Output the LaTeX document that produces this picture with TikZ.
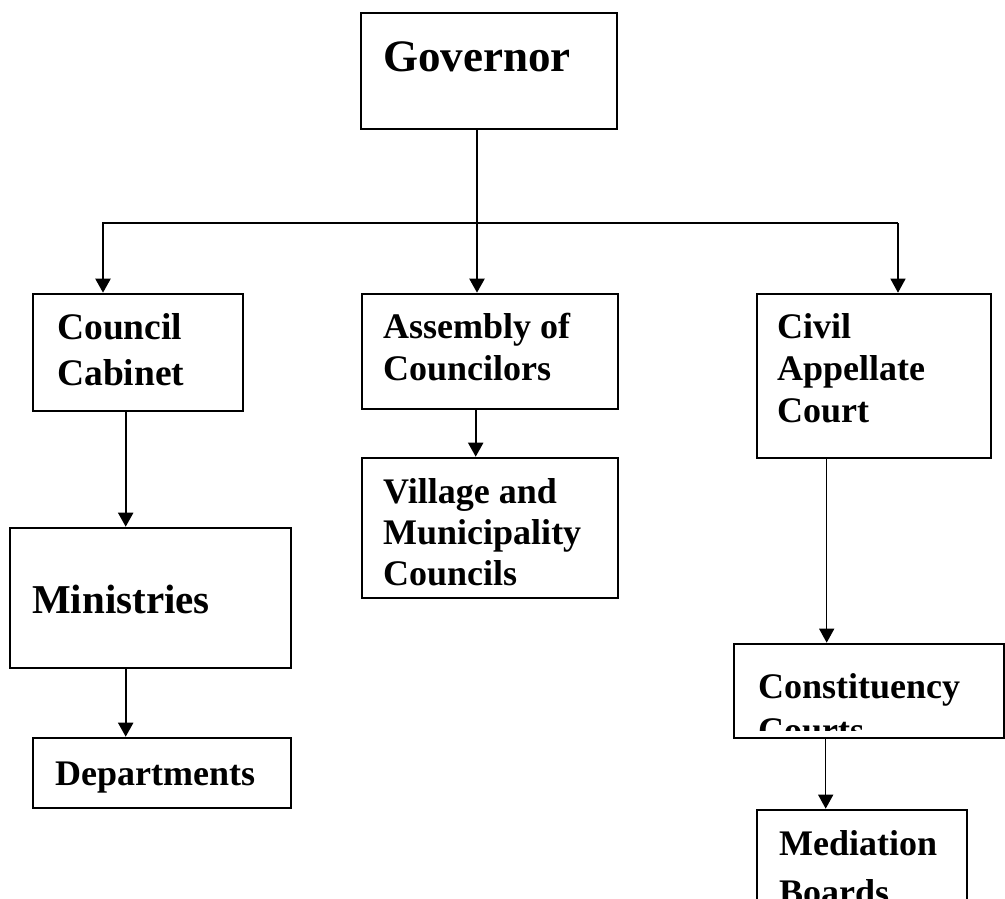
\documentclass[tikz,border=0pt]{standalone}
\usepackage{fontspec}
\setmainfont{Liberation Serif}
\usetikzlibrary{arrows.meta}
\tikzset{
  box/.style={draw, rectangle, line width=2.6pt, inner sep=0pt},
  link/.style={line width=2.1pt, -{Triangle[width=15pt,length=14pt]}},
  thinlink/.style={link, line width=1.3pt},
  lbl/.style={anchor=base west, inner sep=0pt, font=\bfseries\fontsize{36}{42}\selectfont},
  biglbl/.style={lbl, font=\bfseries\fontsize{45}{52}\selectfont},
  midlbl/.style={lbl, font=\bfseries\fontsize{41}{48}\selectfont},
  cablbl/.style={lbl, font=\bfseries\fontsize{37.5}{44}\selectfont},
}
\begin{document}
\begin{tikzpicture}[x=1pt,y=-1pt]
\useasboundingbox (0,0) rectangle (1005,898);
\clip (0,0) rectangle (1005,898);

% boxes
\node[box, minimum width=256pt, minimum height=116pt] (gov) at (489,71) {};
\node[box, minimum width=210pt, minimum height=117pt] (cab) at (138,352.5) {};
\node[box, minimum width=256pt, minimum height=115pt] (asm) at (490,351.5) {};
\node[box, minimum width=234pt, minimum height=164pt] (civ) at (874,376) {};
\node[box, minimum width=256pt, minimum height=140pt] (vil) at (490,528) {};
\node[box, minimum width=281pt, minimum height=140pt] (min) at (150.5,598) {};
\node[box, minimum width=258pt, minimum height=70pt]  (dep) at (162,773) {};
\node[box, minimum width=270pt, minimum height=94pt]  (con) at (869,691) {};
\node[box, minimum width=210pt, minimum height=130pt] (med) at (862,875) {};

% labels
\node[biglbl] (tgov) at (383,71) {Governor};
\node[cablbl] (tcab1) at (57,339) {Council};
\node[cablbl] (tcab2) at (57,385) {Cabinet};
\node[lbl] (tasm1) at (383,338) {Assembly of};
\node[lbl] (tasm2) at (383,380) {Councilors};
\node[lbl] (tvil1) at (383,503) {Village and};
\node[lbl] (tvil2) at (383,544) {Municipality};
\node[lbl] (tvil3) at (383,585) {Councils};
\node[lbl] (tciv1) at (777,338) {Civil};
\node[lbl] (tciv2) at (777,380) {Appellate};
\node[lbl] (tciv3) at (777,422) {Court};
\node[midlbl] (tmin) at (32,613) {Ministries};
\node[lbl] (tdep) at (55,785) {Departments};
\node[lbl] (tcon1) at (758,698) {Constituency};
\begin{scope}
  \clip (734,700) rectangle (1005,730);
  \node[lbl] (tcon2) at (758,742) {Courts};
\end{scope}
\node[lbl] (tmed1) at (779,855) {Mediation};
\node[lbl] (tmed2) at (779,904) {Boards};

% connectors
\coordinate (bus) at (477,223);
\coordinate (busL) at (103,223);
\coordinate (busR) at (898,223);
\draw[link] (gov.south -| bus) -- (asm.north -| bus);
\draw[link] (bus) -| (busL |- cab.north);
\draw[line width=2.1pt] (bus) -- (busR);
\draw[thinlink] (busR) -- (busR |- civ.north);
\draw[link] ([xshift=94pt]cab.south west) -- ([xshift=117pt]min.north west);
\draw[link] ([xshift=117pt]min.south west) -- ([xshift=94pt]dep.north west);
\draw[link] ([xshift=115pt]asm.south west) -- ([xshift=115pt]vil.north west);
\draw[thinlink] ([xshift=71pt]civ.south west) -- ([xshift=94pt]con.north west);
\draw[thinlink] ([xshift=93pt]con.south west) -- ([xshift=70pt]med.north west);
\end{tikzpicture}
\end{document}
